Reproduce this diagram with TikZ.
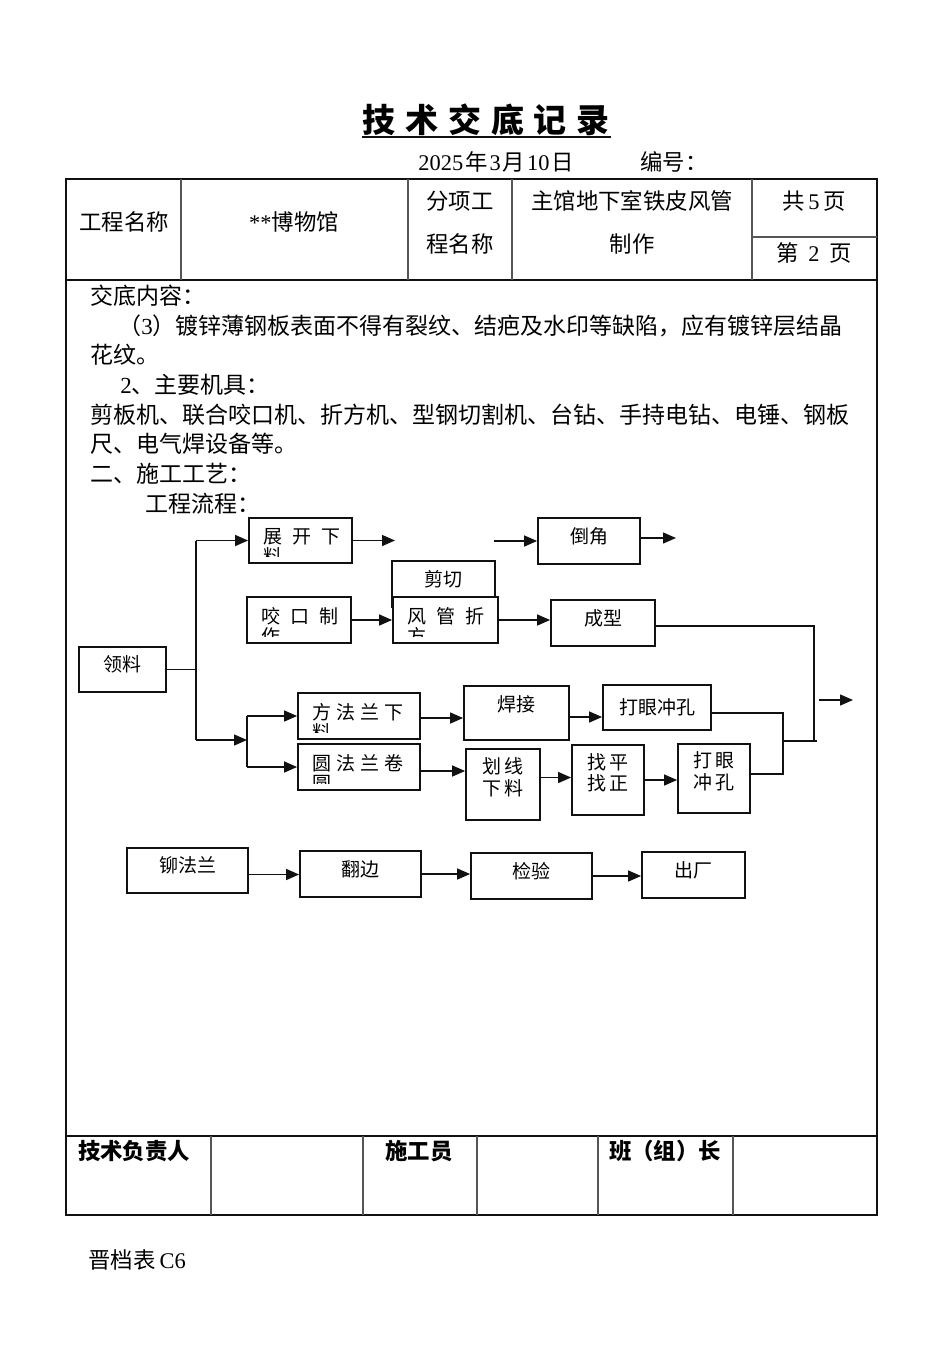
\documentclass[tikz,border=0pt]{standalone}
\usepackage{fontspec}
\setmainfont{Noto Sans CJK SC}
\newfontfamily\lat{Liberation Serif}
\usepackage{tikz}
\usepackage{xcolor}
\usetikzlibrary{arrows.meta,positioning}
\definecolor{ink}{HTML}{111111}
\definecolor{rulegray}{HTML}{555555}
\newcommand\lift[1]{\raisebox{2.5pt}[\height][\depth]{#1}}
\newcommand\twoline[2]{\lift{\begin{tabular}{@{}c@{}}#1\\#2\end{tabular}}}
\tikzset{
  titletext/.style={inner sep=0pt,font=\fontsize{16.5}{18}\selectfont\bfseries},
  celltext/.style={inner sep=0pt,font=\fontsize{11.2}{14}\selectfont},
  bodytext/.style={anchor=west,inner sep=0pt,font=\fontsize{11.5}{14}\selectfont},
  signtext/.style={inner sep=0pt,font=\fontsize{11.2}{14}\selectfont\bfseries},
  formframe/.style={draw=ink,line width=0.7pt},
  formrule/.style={draw=rulegray,line width=0.6pt},
  flowbox/.style={draw=ink,fill=white,line width=0.9pt,inner sep=0pt,
                  align=center,font=\fontsize{9.5}{10}\selectfont},
  boxsize/.style 2 args={minimum width=#1*0.5pt,minimum height=#2*0.5pt},
  cutlabel/.style={path picture={
      \clip ([yshift=3.5pt]path picture bounding box.south west)
        rectangle (path picture bounding box.north east);
      \node[anchor=north west,inner sep=0pt,minimum width=0pt,minimum height=0pt,
            draw=none,fill=none,align=left,font=\fontsize{9.5}{10}\selectfont]
        at ([xshift=7pt,yshift=-5pt]path picture bounding box.north west) {#1};}},
  flowline/.style={draw=ink,line width=0.7pt},
  flowarr/.style={-{Triangle[length=6.5pt,width=5.5pt]},draw=ink,line width=0.7pt}
}

\begin{document}
\begin{tikzpicture}[x=0.5pt,y=-0.5pt]
  \useasboundingbox[fill=white] (0,0) rectangle (950,1350);

  % title and date
  \node[titletext] (title) at (486,120)
    {技\hspace{5pt}术\hspace{5pt}交\hspace{5pt}底\hspace{5pt}记\hspace{5pt}录};
  \draw[ink,line width=1.1pt] (362,137) -- (611,137);
  \node[celltext,anchor=west] (date) at (418,162)
    {{\lat 2025}\hspace{1pt}年\hspace{1pt}{\lat 3}\hspace{1pt}月\hspace{1pt}{\lat 10}\hspace{1pt}日};
  \node[celltext,anchor=west] (serial) at (640,162) {编号：};

  % form frame
  \draw[formframe] (66,179) rectangle (877,1215);
  \draw[ink,line width=0.9pt] (66,280) -- (877,280);
  \foreach \x in {181,408,512,752}
    \draw[formrule] (\x,179) -- (\x,280);
  \draw[formrule] (752,237) -- (877,237);
  \draw[formframe] (66,1136) -- (877,1136);
  \foreach \x in {211,363,477,598,733}
    \draw[formrule] (\x,1136) -- (\x,1215);

  % header row
  \node[celltext] (projname) at (124,222) {工程名称};
  \node[celltext] (projval) at (294,222) {{\lat **}博物馆};
  \node[celltext] (subnamea) at (460,201) {分项工};
  \node[celltext] (subnameb) at (460,244) {程名称};
  \node[celltext] (subvala) at (632,201) {主馆地下室铁皮风管};
  \node[celltext] (subvalb) at (632,244) {制作};
  \node[celltext] (pagetotal) at (814,201) {共\hspace{2pt}{\lat 5}\hspace{2pt}页};
  \node[celltext] (pagenum) at (814,253) {第\hspace{5pt}{\lat 2}\hspace{5pt}页};

  % body text
  \node[bodytext] (linea) at (90,296) {交底内容：};
  \node[bodytext] (lineb) at (118,326) {（{\lat 3}）镀锌薄钢板表面不得有裂纹、结疤及水印等缺陷，应有镀锌层结晶};
  \node[bodytext] (linec) at (90,355) {花纹。};
  \node[bodytext] (lined) at (120,385) {{\lat 2}、主要机具：};
  \node[bodytext] (linee) at (90,415) {剪板机、联合咬口机、折方机、型钢切割机、台钻、手持电钻、电锤、钢板};
  \node[bodytext] (linef) at (90,444) {尺、电气焊设备等。};
  \node[bodytext] (lineg) at (90,474) {二、施工工艺：};
  \node[bodytext] (lineh) at (145,504) {工程流程：};

  % flow boxes, upper branch
  \node[flowbox,boxsize={103}{45},cutlabel={展\hspace{5pt}开\hspace{5pt}下\\料}] (zk) at (300.5,540.5) {};
  \node[flowbox,boxsize={102}{46}] (dj) at (589,541) {\lift{倒角}};
  \node[flowbox,boxsize={103}{46}] (jq) at (443.5,584) {\lift{剪切}};
  \node[flowbox,boxsize={105}{46},cutlabel={风\hspace{5pt}管\hspace{5pt}折\\方}] (fg) at (445.5,620) {};
  \node[flowbox,boxsize={104}{46},cutlabel={咬\hspace{5pt}口\hspace{5pt}制\\作}] (yk) at (299,620) {};
  \node[flowbox,boxsize={104}{46}] (cx) at (603,623) {\lift{成型}};
  \node[flowbox,boxsize={87}{45}] (ll) at (122.5,669.5) {\lift{领料}};

  % flow boxes, flange branch
  \node[flowbox,boxsize={122}{46},cutlabel={方\hspace{2.5pt}法\hspace{2.5pt}兰\hspace{2.5pt}下\\料}] (ff) at (359,716) {};
  \node[flowbox,boxsize={122}{46},cutlabel={圆\hspace{2.5pt}法\hspace{2.5pt}兰\hspace{2.5pt}卷\\圆}] (yf) at (359,767) {};
  \node[flowbox,boxsize={105}{54}] (hj) at (516.5,713) {\raisebox{4.5pt}[\height][\depth]{焊接}};
  \node[flowbox,boxsize={108}{45}] (dya) at (657,707.5) {打眼冲孔};
  \node[flowbox,boxsize={74}{71}] (hx) at (503,784.5) {\twoline{划\hspace{1.5pt}线}{下\hspace{1.5pt}料}};
  \node[flowbox,boxsize={72}{70}] (zp) at (608,780) {\twoline{找\hspace{1.5pt}平}{找\hspace{1.5pt}正}};
  \node[flowbox,boxsize={72}{69}] (dyb) at (714,778.5) {\twoline{打\hspace{1.5pt}眼}{冲\hspace{1.5pt}孔}};

  % flow boxes, bottom row
  \node[flowbox,boxsize={121}{45}] (mf) at (187.5,870.5) {\lift{铆法兰}};
  \node[flowbox,boxsize={121}{46}] (fb) at (360.5,874) {\lift{翻边}};
  \node[flowbox,boxsize={121}{46}] (jy) at (531.5,876) {\lift{检验}};
  \node[flowbox,boxsize={103}{46}] (cc) at (693.5,875) {\lift{出厂}};

  % junction points
  \coordinate (trunktop) at (196,540.5);
  \coordinate (trunkbot) at (196,740);
  \coordinate (fork) at (247,740);
  \coordinate (zkend) at (395,540.5);
  \coordinate (djstart) at (494,541);
  \coordinate (djend) at (676,538);
  \coordinate (mergetop) at (814,626);
  \coordinate (jtop) at (783,713);
  \coordinate (jmid) at (783,741);
  \coordinate (jbot) at (783,774);
  \coordinate (outlow) at (817,741);
  \coordinate (outa) at (819,700);
  \coordinate (outb) at (853,700);

  % connectors
  \draw[flowline] (ll.east) -- (ll.east -| trunktop);
  \draw[flowline] (trunktop) -- (trunkbot);
  \draw[flowarr] (trunktop) -- (zk.west);
  \draw[flowarr] (trunkbot) -- (fork);
  \draw[flowline] (fork |- ff.west) -- (fork |- yf.west);
  \draw[flowarr] (fork |- ff.west) -- (ff.west);
  \draw[flowarr] (fork |- yf.west) -- (yf.west);
  \draw[flowarr] (zk.east) -- (zkend);
  \draw[flowarr] (djstart) -- (dj.west |- djstart);
  \draw[flowarr] (dj.east |- djend) -- (djend);
  \draw[flowarr] (yk.east) -- (fg.west);
  \draw[flowarr] (fg.east) -- (fg.east -| cx.west);
  \draw[flowline] (cx.east |- mergetop) -- (mergetop) -- (mergetop |- outlow);
  \draw[flowarr] ([yshift=-1pt]ff.east) -- ([yshift=-1pt]ff.east -| hj.west);
  \draw[flowarr] ([yshift=-2pt]yf.east) -- ([yshift=-2pt]yf.east -| hx.west);
  \draw[flowarr] ([yshift=-2pt]hj.east) -- ([yshift=-2pt]hj.east -| dya.west);
  \draw[flowarr] ([yshift=3.5pt]hx.east) -- ([yshift=3.5pt]hx.east -| zp.west);
  \draw[flowarr] (zp.east) -- (zp.east -| dyb.west);
  \draw[flowline] (dya.east |- jtop) -- (jtop) -- (jbot) -- (dyb.east |- jbot);
  \draw[flowline] (jmid) -- (outlow);
  \draw[flowarr] (outa) -- (outb);
  \draw[flowarr] ([yshift=-2pt]mf.east) -- ([yshift=-2pt]mf.east -| fb.west);
  \draw[flowarr] (fb.east) -- (fb.east -| jy.west);
  \draw[flowarr] (jy.east) -- (jy.east -| cc.west);

  % sign row and footer
  \node[signtext] (signa) at (134,1151) {技术负责人};
  \node[signtext] (signb) at (419,1151) {施工员};
  \node[signtext] (signc) at (665,1151) {班（组）长};
  \node[celltext,anchor=west] (formno) at (88,1260) {晋档表\hspace{2pt}{\lat C6}};
\end{tikzpicture}
\end{document}
